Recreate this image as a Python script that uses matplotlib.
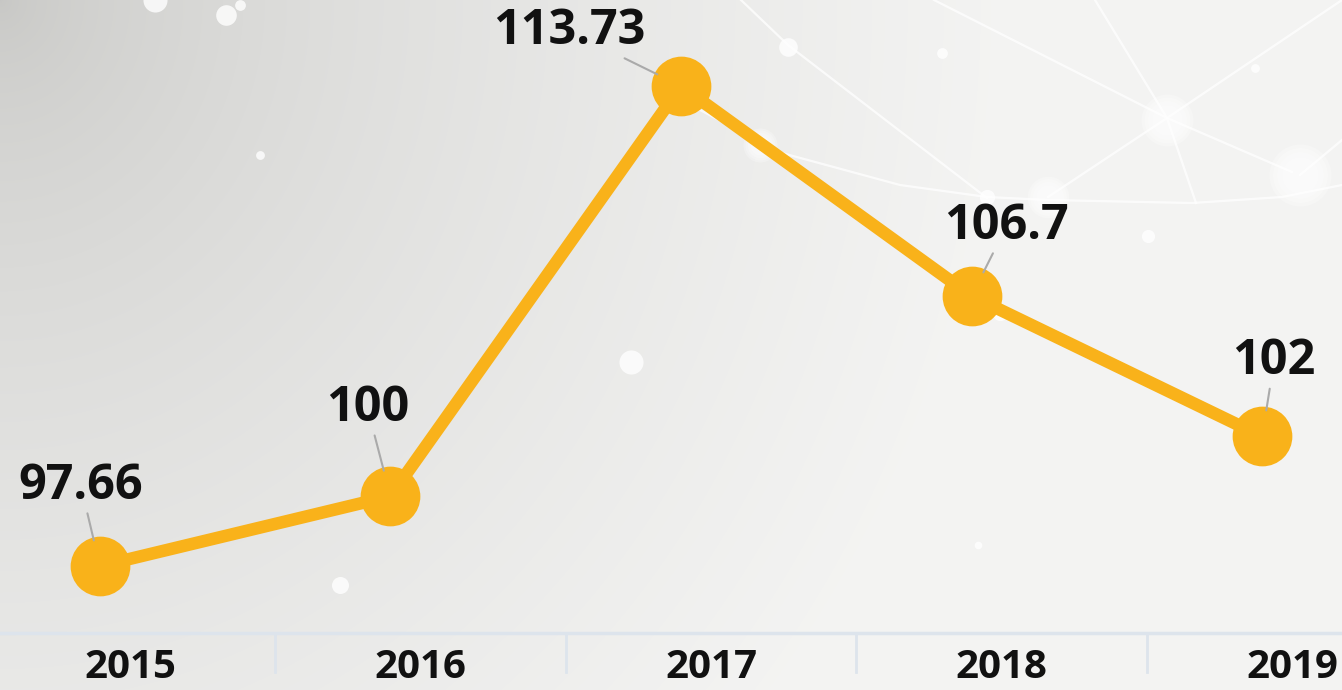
import numpy as np
import matplotlib
matplotlib.use("Agg")
import matplotlib.pyplot as plt
import matplotlib.transforms as mtransforms

plt.rcParams['font.family'] = ['Open Sans', 'DejaVu Sans']

# data
years = ['2015', '2016', '2017', '2018', '2019']
values = [97.66, 100, 113.73, 106.7, 102]

# label offsets (pixels, from point to label centre)
label_dx = [-19, -23, -112, 35, 12]
label_dy = [80, 88, 55, 70, 75]

line_color = '#F9B21A'

W, H = 1342, 690
fig = plt.figure(figsize=(W / 100, H / 100), dpi=100)

# background: soft grey gradient, darker on the left
bg = fig.add_axes([0, 0, 1, 1], zorder=-1)
yy, xx = np.mgrid[0:H, 0:W]
t = np.sqrt((xx / 1000.0) ** 2 + (yy / 1100.0) ** 2)
t = np.clip(t, 0, 1) ** 0.6
c0 = np.array([0.78, 0.78, 0.77])
c1 = np.array([0.955, 0.955, 0.95])
img = c0 + (c1 - c0) * t[..., None]
bg.imshow(img, extent=(0, W, H, 0), aspect='auto')

# decorative network in the top right
net = [[(1342, 0), (1167, 118)], [(934, 0), (1167, 118)], [(1095, 0), (1167, 118)],
       [(1167, 118), (1048, 197)], [(1167, 118), (1196, 203)], [(1167, 118), (1292, 172)],
       [(741, 0), (788, 45), (987, 198)],
       [(700, 110), (782, 153), (900, 185), (987, 197), (1048, 200), (1192, 203),
        (1282, 197), (1342, 185)],
       [(1342, 140), (1300, 175)]]
for seg in net:
    xs, ys = zip(*seg)
    bg.plot(xs, ys, color='white', lw=1.6, alpha=0.75)
glow = [(1167, 120, 1400), (1048, 197, 900), (1300, 175, 2000), (760, 145, 600)]
for gx, gy, gs in glow:
    for k in range(4):
        bg.scatter(gx, gy, s=gs * (1 - k * 0.22), color='white', alpha=0.25, lw=0)
dots = [(788, 47, 180), (987, 197, 120), (942, 53, 60), (1255, 68, 40), (1148, 236, 90),
        (1000, 313, 120), (631, 362, 300), (240, 5, 60), (155, 0, 300), (226, 15, 220),
        (260, 155, 40), (978, 545, 30), (340, 585, 150)]
for dx_, dy_, ds in dots:
    bg.scatter(dx_, dy_, s=ds, color='white', alpha=0.8, lw=0)
bg.set_xlim(0, W)
bg.set_ylim(H, 0)
bg.axis('off')

# main chart
ax = fig.add_axes([0, 57 / H, 1, 1 - 57 / H])
ax.patch.set_alpha(0)
x = np.arange(len(years))
ax.plot(x, values, color=line_color, lw=9, solid_capstyle='round', zorder=3,
        marker='o', markersize=43, markerfacecolor=line_color, markeredgewidth=0)

for i, v in enumerate(values):
    ax.annotate('{:g}'.format(v), xy=(i, v), xytext=(label_dx[i], label_dy[i]),
                textcoords='offset pixels', ha='center', va='center',
                fontsize=35, fontweight='bold', color='#111111', zorder=4,
                arrowprops=dict(arrowstyle='-', color='#aaaaaa', lw=1.5,
                                shrinkA=0, shrinkB=19))

ax.set_xlim(-0.344, 4.275)
ax.set_ylim(95.42, 116.61)
ax.set_yticks([])
ax.set_xticks(x)
ax.set_xticklabels(years, fontsize=29, fontweight='bold', color='#111111')
ax.tick_params(axis='x', length=0, pad=11)
shift = mtransforms.ScaledTranslation(30 / 100, 0, fig.dpi_scale_trans)
for lab in ax.get_xticklabels():
    lab.set_transform(lab.get_transform() + shift)

for s in ['top', 'left', 'right']:
    ax.spines[s].set_visible(False)
ax.spines['bottom'].set_color('#dde4ec')
ax.spines['bottom'].set_linewidth(2.5)

# category separators below the axis
sep_tr = mtransforms.blended_transform_factory(ax.transData, ax.transAxes) + shift
for i in range(len(years) - 1):
    ax.plot([i + 0.5, i + 0.5], [0, -39 / 633], transform=sep_tr, color='#dde4ec',
            lw=2, clip_on=False)

fig.savefig('out.png', dpi=100)
